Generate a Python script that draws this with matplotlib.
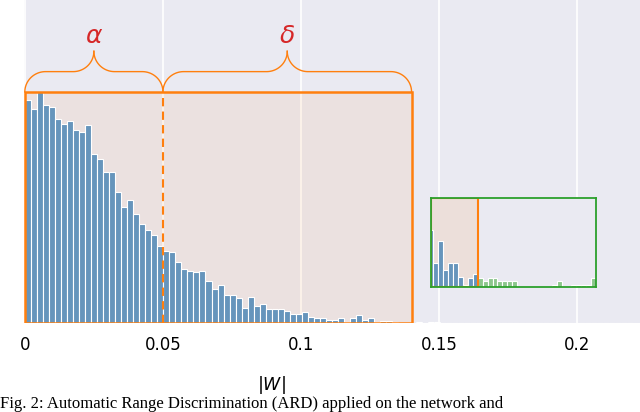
import numpy as np
import matplotlib
matplotlib.use("Agg")
from matplotlib import pyplot as plt
from matplotlib.patches import Rectangle

# relative histogram heights of |W| (tallest bin = 1)
main_counts = [0.967, 0.928, 1.0, 0.945, 0.933, 0.883, 0.862, 0.875, 0.836, 0.826,
               0.855, 0.733, 0.710, 0.652, 0.655, 0.568, 0.503, 0.532, 0.471, 0.429,
               0.403, 0.383, 0.335, 0.311, 0.306, 0.263, 0.234, 0.227, 0.220, 0.224,
               0.183, 0.146, 0.164, 0.120, 0.120, 0.108, 0.066, 0.112, 0.075, 0.082,
               0.059, 0.059, 0.059, 0.054, 0.037, 0.037, 0.047, 0.025, 0.021, 0.021,
               0.013, 0.013, 0.021, 0.003, 0.021, 0.033, 0.012, 0.023, 0.006, 0.009,
               0.009, 0.003, 0.002, 0.002, 0.001,
               0.003, 0.002, 0.003, 0.003, 0.002, 0.002, 0.002, 0.002, 0.0, 0.0,
               0.0, 0.0, 0.0, 0.0, 0.0, 0.001, 0.002, 0.0, 0.0, 0.001,
               0.0, 0.0, 0.001, 0.001, 0.001, 0.0, 0.0, 0.001, 0.0, 0.0,
               0.001, 0.001, 0.001, 0.001, 0.002, 0.0]
bin_width = 0.00218

# zoomed tail (inset), relative heights
inset_counts = [0.642, 0.269, 0.512, 0.188, 0.269, 0.269, 0.108, 0.027, 0.104, 0.146,
                0.104, 0.065, 0.100, 0.100, 0.065, 0.065, 0.065, 0.065, 0.0, 0.0,
                0.0, 0.0, 0.0, 0.0, 0.0, 0.027, 0.065, 0.0, 0.0, 0.027,
                0.027, 0.027, 0.027, 0.104]
inset_width = 0.0033

alpha_end = 0.05   # boundary between alpha and delta
range_end = 0.14   # end of the kept range
xticks = [0, 0.05, 0.1, 0.15, 0.2]
xtick_labels = ["0", "0.05", "0.1", "0.15", "0.2"]

bg = "#EAEAF2"
blue = "#6695BC"
green = "#8CC68C"
orange = "#FF7F0E"
red = "#D62728"

fig = plt.figure(figsize=(6.4, 4.12), dpi=100)
ax = fig.add_axes([24 / 640, 89 / 412, 616 / 640, 323 / 412])
ax.set_facecolor(bg)
for s in ax.spines.values():
    s.set_visible(False)

lefts = np.arange(len(main_counts)) * bin_width
ax.bar(lefts, main_counts, width=bin_width, align="edge", color=blue,
       edgecolor="white", linewidth=0.8, zorder=2)

top = max(main_counts)
ax.add_patch(Rectangle((0, 0), range_end, top, facecolor=orange,
                       alpha=0.08, edgecolor="none", zorder=1))
ax.add_patch(Rectangle((0, 0), range_end, top, facecolor="none",
                       edgecolor=orange, linewidth=1.8, zorder=3))
ax.plot([alpha_end, alpha_end], [0, top], color=orange, lw=1.5,
        ls=(0, (4, 2.5)), zorder=3)


def brace(ax, x0, x1, y0, rx, ry, label):
    xm = (x0 + x1) / 2
    t = np.linspace(0, np.pi / 2, 30)
    xs = np.concatenate([x0 + rx - rx * np.cos(t), xm - rx + rx * np.sin(t)])
    ys = np.concatenate([y0 + ry * np.sin(t), y0 + 2 * ry - ry * np.cos(t)])
    ax.plot(xs, ys, color=orange, lw=1.0, clip_on=False, zorder=4)
    ax.plot(x0 + x1 - xs, ys, color=orange, lw=1.0, clip_on=False, zorder=4)
    ax.text(xm, y0 + 2 * ry + 0.065, label, color=red, fontsize=18,
            ha="center", va="center")


brace(ax, 0, alpha_end, top, 0.0075, 0.088, r"$\alpha$")
brace(ax, alpha_end, range_end, top, 0.0075, 0.088, r"$\delta$")

ax.set_xlim(-0.0003, 0.2227)
ax.set_ylim(0, 1.398)
ax.set_yticks([])
ax.set_xticks(xticks)
ax.set_xticklabels(xtick_labels)
ax.tick_params(axis="x", length=0, pad=9, labelsize=12)
ax.grid(axis="x", color="white", lw=1.2, zorder=0)
ax.set_axisbelow(True)
ax.set_xlabel(r"$|W|$", fontsize=12.5)
ax.xaxis.set_label_coords(0.401, -0.157)

# inset with the tail of the distribution
ins = fig.add_axes([431 / 640, 125 / 412, 165 / 640, 89 / 412])
ins.set_facecolor(bg)
ins_edges = range_end + (np.arange(len(inset_counts)) - 10) * inset_width
ins_colors = [blue if e < range_end else green for e in ins_edges]
ins.bar(ins_edges, inset_counts, width=inset_width, align="edge",
        color=ins_colors, edgecolor="white", linewidth=0.8, zorder=2)
x_lo = range_end - 9.5 * inset_width
x_hi = range_end + 24 * inset_width
ins.add_patch(Rectangle((x_lo, 0), range_end - x_lo, 1.0, facecolor=orange,
                        alpha=0.1, edgecolor="none", zorder=1))
ins.add_patch(Rectangle((x_lo, 0), range_end - x_lo, 1.0, facecolor="none",
                        edgecolor=orange, linewidth=1.5, zorder=3))
ins.set_xlim(x_lo, x_hi)
ins.set_ylim(0, 1.0)
ins.set_xticks([])
ins.set_yticks([])
for s in ins.spines.values():
    s.set_color("#2CA02C")
    s.set_linewidth(1.3)
    s.set_zorder(5)

fig.text(0.0, 4.5 / 412, "Fig. 2: Automatic Range Discrimination (ARD) applied on the network and",
         family="Liberation Serif", fontsize=12, ha="left", va="baseline")

fig.savefig("out.png", dpi=100)
